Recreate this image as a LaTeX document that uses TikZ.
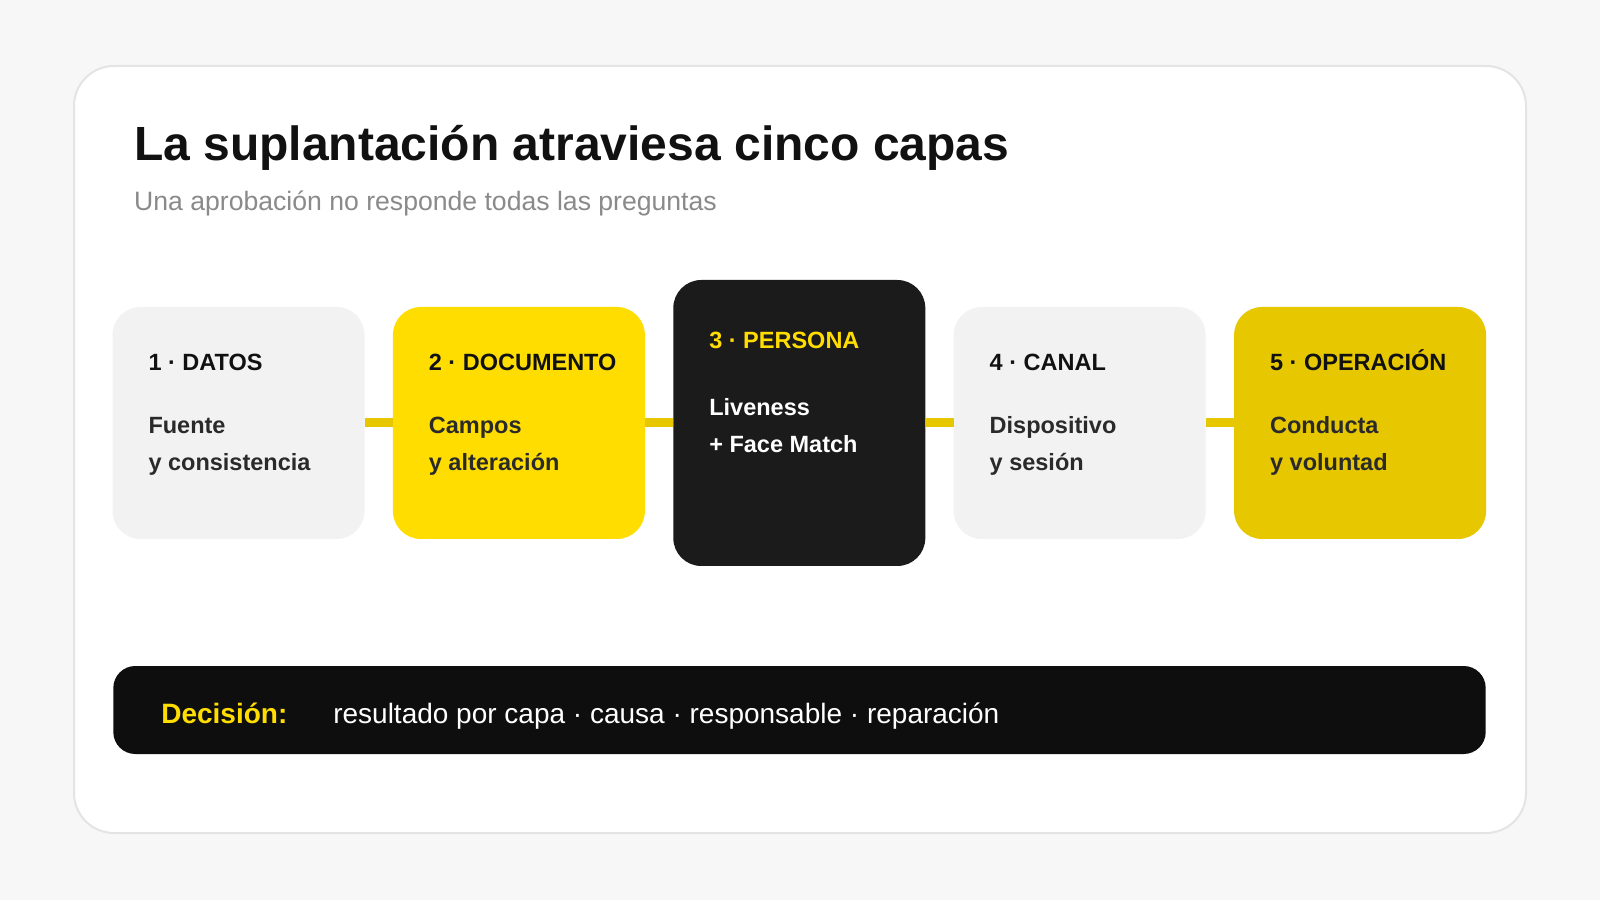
\documentclass[tikz,border=0pt]{standalone}
\usepackage{fontspec}
\setmainfont{Liberation Sans}
\usepackage{tikz}
\usetikzlibrary{
  calc,
  positioning
}
\definecolor{pageBg}{HTML}{F7F7F7}
\definecolor{cardLine}{HTML}{E4E4E4}
\definecolor{inkDark}{HTML}{111111}
\definecolor{inkBody}{HTML}{2A2A2A}
\definecolor{inkGray}{HTML}{8A8A8A}
\definecolor{layerGray}{HTML}{F2F2F2}
\definecolor{layerYellow}{HTML}{FFDD00}
\definecolor{layerGold}{HTML}{E6C700}
\definecolor{layerBlack}{HTML}{1B1B1B}
\definecolor{barBlack}{HTML}{0E0E0E}
\tikzset{
  layer/.style={
    minimum width=252pt, minimum height=232pt,
    rounded corners=28pt, inner sep=0pt, draw=none
  },
  link/.style={draw=layerGold, line width=9pt},
  headNote/.style={anchor=base west, inner sep=0pt, text=inkDark,
    font=\fontsize{23.5}{28}\selectfont\bfseries},
  bodyNote/.style={anchor=base west, inner sep=0pt, text=inkBody, align=left,
    font=\fontsize{23.5}{37.5}\selectfont\bfseries},
}

\begin{document}
\begin{tikzpicture}[x=1pt, y=1pt]

% --- page and card ---
\fill[pageBg] (0,0) rectangle (1600,900);
\useasboundingbox (0,0) rectangle (1600,900);
\draw[cardLine, fill=white, line width=2pt, rounded corners=40pt]
  (74,67) rectangle (1526,834);

% --- title ---
\node[anchor=base west, inner sep=0pt, text=inkDark,
  font=\fontsize{48}{56}\selectfont\bfseries] (title) at (134,739)
  {La suplantación atraviesa cinco capas};
\node[anchor=base west, inner sep=0pt, text=inkGray,
  font=\fontsize{26.6}{30}\selectfont] (subtitle) at (134,689)
  {Una aprobación no responde todas las preguntas};

% --- five layers ---
\node[layer, fill=layerGray] (datos) at (238.5,477) {};
\node[layer, fill=layerYellow, right=28pt of datos] (documento) {};
\node[layer, fill=layerBlack, minimum height=286pt, right=28pt of documento] (persona) {};
\node[layer, fill=layerGray, right=28pt of persona] (canal) {};
\node[layer, fill=layerGold, right=28pt of canal] (operacion) {};

\draw[link] (datos.east) -- (documento.west);
\draw[link] (documento.east) -- (persona.west);
\draw[link] (persona.east) -- (canal.west);
\draw[link] (canal.east) -- (operacion.west);

% base of a two-line note is its last line
\node[headNote] (datosHead) at ([shift={(36pt,-64pt)}]datos.north west) {1 · DATOS};
\node[bodyNote] (datosBody) at ([shift={(36pt,-164pt)}]datos.north west) {Fuente\\y consistencia};

\node[headNote] (documentoHead) at ([shift={(36pt,-64pt)}]documento.north west) {2 · DOCUMENTO};
\node[bodyNote] (documentoBody) at ([shift={(36pt,-164pt)}]documento.north west) {Campos\\y alteración};

\node[headNote, text=layerYellow] (personaHead) at ([shift={(36pt,-69pt)}]persona.north west) {3 · PERSONA};
\node[bodyNote, text=white] (personaBody) at ([shift={(36pt,-173pt)}]persona.north west) {Liveness\\+ Face Match};

\node[headNote] (canalHead) at ([shift={(36pt,-64pt)}]canal.north west) {4 · CANAL};
\node[bodyNote] (canalBody) at ([shift={(36pt,-164pt)}]canal.north west) {Dispositivo\\y sesión};

\node[headNote] (operacionHead) at ([shift={(36pt,-64pt)}]operacion.north west) {5 · OPERACIÓN};
\node[bodyNote] (operacionBody) at ([shift={(36pt,-164pt)}]operacion.north west) {Conducta\\y voluntad};

% --- decision bar ---
\node[fill=barBlack, rounded corners=22pt, minimum width=1372.4pt, minimum height=88pt,
  inner sep=0pt] (decision) at (799.5,190) {};
\node[anchor=base west, inner sep=0pt, text=layerYellow,
  font=\fontsize{28}{32}\selectfont\bfseries] (decisionHead)
  at ([shift={(48pt,-13pt)}]decision.west) {Decisión:};
\node[anchor=base west, inner sep=0pt, text=white,
  font=\fontsize{28}{32}\selectfont] (decisionText)
  at ([shift={(220pt,-13pt)}]decision.west)
  {resultado por capa · causa · responsable · reparación};

\end{tikzpicture}
\end{document}
